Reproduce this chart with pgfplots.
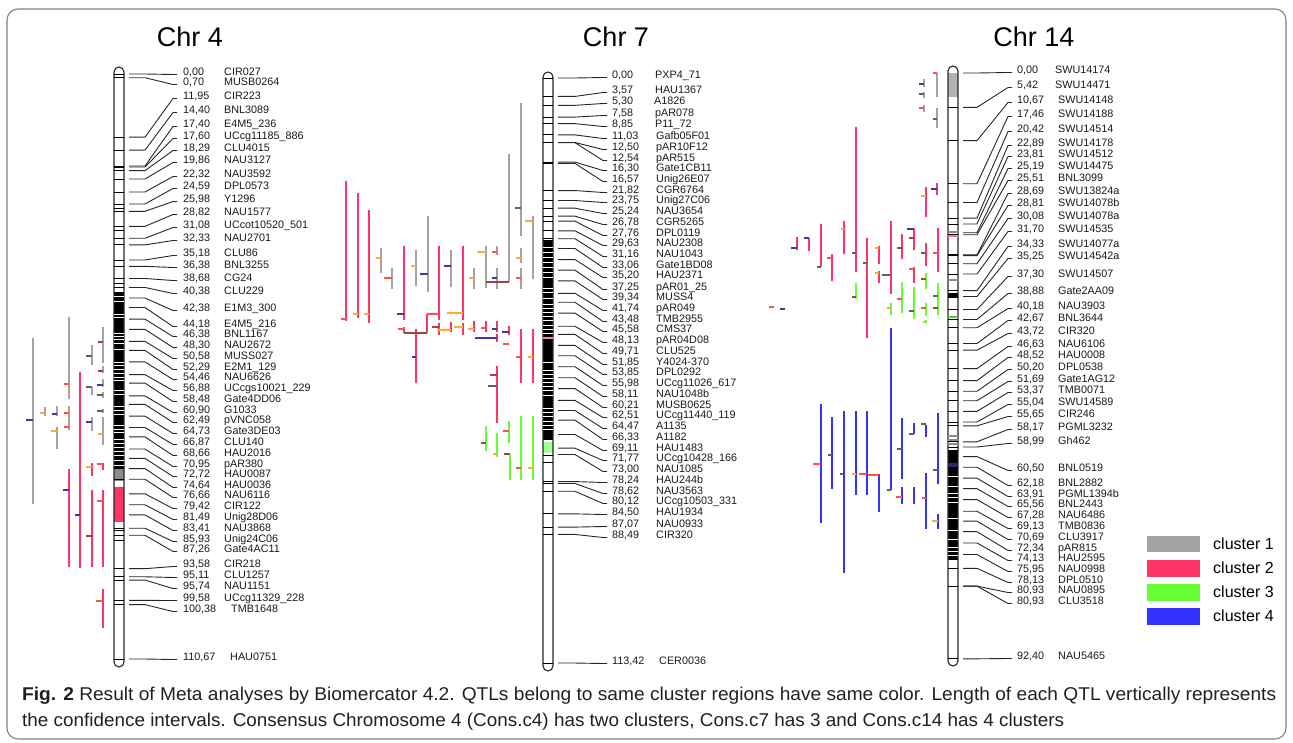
\documentclass[border=0pt]{standalone}
\usepackage{pgfplots}
\pgfplotsset{compat=1.18}
\usepackage{pgfplotstable}
\usepackage{graphicx}
\usepackage{fontspec}
\setmainfont{Liberation Sans}

\definecolor{cgrey}{HTML}{A3A3A3}
\definecolor{cpink}{HTML}{FF3366}
\definecolor{cgreen}{HTML}{66FF33}
\definecolor{cblue}{HTML}{3333FF}
\definecolor{tred}{HTML}{FF5050}
\definecolor{torange}{HTML}{FFAA33}
\definecolor{tblue}{HTML}{3A3AAA}
\definecolor{tbrown}{HTML}{9A4444}
\definecolor{tgrey}{HTML}{606060}
\definecolor{captext}{HTML}{231F20}

\newcommand\lab{\fontsize{10.8}{12}\selectfont}
\tikzset{lab/.style={anchor=base west, inner sep=0pt, font=\lab, text=black!90}}

\pgfplotsset{
  conn/.style={black!85, line width=0.9pt, mark=none},
  qbar/.style={line width=2.8pt, mark=none, unbounded coords=jump},
  gbar/.style={line width=2.4pt, mark=none, unbounded coords=jump, cgrey},
  qtick/.style={line width=1.8pt, mark=none, unbounded coords=jump},
  band/.style={only marks, mark=-, mark size=5pt, mark options={line width=0.9pt, draw=black}, unbounded coords=discard},
  wband/.style={only marks, mark=-, mark size=5pt, mark options={line width=0.8pt, draw=white}},
  block/.style={line width=10pt, mark=none},
}

% cM = position, yl = label row (pixel), nx = x of marker name
\pgfplotstableread{
cM yl nx name
0.00 71 224 CIR027
0.70 81 224 MUSB0264
11.95 95 224 CIR223
14.40 109 224 BNL3089
17.40 123 224 E4M5\textunderscore236
17.60 135 224 UCcg11185\textunderscore886
18.29 147 224 CLU4015
19.86 159 224 NAU3127
22.32 173 224 NAU3592
24.59 185 224 DPL0573
25.98 198 224 Y1296
28.82 211 224 NAU1577
31.08 224 224 UCcot10520\textunderscore501
32.33 237 224 NAU2701
35.18 252 224 CLU86
36.38 264 224 BNL3255
38.68 277 224 CG24
40.38 290 224 CLU229
42.38 307 224 E1M3\textunderscore300
44.18 323 224 E4M5\textunderscore216
46.38 333 224 BNL1167
48.30 344 224 NAU2672
50.58 355 224 MUSS027
52.29 366 224 E2M1\textunderscore129
54.46 376 224 NAU6626
56.88 387 224 UCcgs10021\textunderscore229
58.48 398 224 Gate4DD06
60.90 409 224 G1033
62.49 419 224 pVNC058
64.73 430 224 Gate3DE03
66.87 441 224 CLU140
68.66 452 224 HAU2016
70.95 463 224 pAR380
72.72 473 224 HAU0087
74.64 484 224 HAU0036
76.66 494 224 NAU6116
79.42 505 224 CIR122
81.49 516 224 Unig28D06
83.41 527 224 NAU3868
85.93 538 224 Unig24C06
87.26 548 224 Gate4AC11
93.58 563 224 CIR218
95.11 574 224 CLU1257
95.74 585 224 NAU1151
99.58 597 224 UCcg11329\textunderscore228
100.38 608 231 TMB1648
110.67 656 230 HAU0751
}\chrfour

\pgfplotstableread{
cM yl nx name
0.00 74 655 PXP4\textunderscore71
3.57 89 655 HAU1367
5.30 100 654 A1826
7.58 112 655 pAR078
8.85 123 655 P11\textunderscore72
11.03 135 656 Gafb05F01
12.50 146 656 pAR10F12
12.54 157 656 pAR515
16.30 167 656 Gate1CB11
16.57 178 656 Unig26E07
21.82 189 656 CGR6764
23.75 199 656 Unig27C06
25.24 210 656 NAU3654
26.78 221 656 CGR5265
27.76 232 656 DPL0119
29.63 242 656 NAU2308
31.16 253 656 NAU1043
33.06 264 656 Gate1BD08
35.20 274 656 HAU2371
37.25 286 656 pAR01\textunderscore25
39.34 296 656 MUSS4
41.74 307 656 pAR049
43.48 318 656 TMB2955
45.58 328 656 CMS37
48.13 339 656 pAR04D08
49.71 350 656 CLU525
51.85 361 656 Y4024-370
53.85 371 656 DPL0292
55.98 382 656 UCcg11026\textunderscore617
58.11 393 656 NAU1048b
60.21 404 656 MUSB0625
62.51 414 656 UCcg11440\textunderscore119
64.47 425 656 A1135
66.33 436 656 A1182
69.11 447 656 HAU1483
71.77 457 656 UCcg10428\textunderscore166
73.00 468 656 NAU1085
78.24 479 656 HAU244b
78.62 490 656 NAU3563
80.12 500 656 UCcg10503\textunderscore331
84.50 511 656 HAU1934
87.07 523 656 NAU0933
88.49 534 656 CIR320
113.42 660 659 CER0036
}\chrseven

\pgfplotstableread{
cM yl nx name
0.00 69 1055 SWU14174
5.42 84 1055 SWU14471
10.67 99 1058 SWU14148
17.46 113 1058 SWU14188
20.42 128 1058 SWU14514
22.89 142 1058 SWU14178
23.81 153 1058 SWU14512
25.19 165 1058 SWU14475
25.51 177 1058 BNL3099
28.69 190 1058 SWU13824a
28.81 202 1058 SWU14078b
30.08 215 1058 SWU14078a
31.70 228 1058 SWU14535
34.33 243 1058 SWU14077a
35.25 255 1058 SWU14542a
37.30 273 1058 SWU14507
38.88 290 1058 Gate2AA09
40.18 305 1058 NAU3903
42.67 317 1058 BNL3644
43.72 330 1058 CIR320
46.63 343 1058 NAU6106
48.52 354 1058 HAU0008
50.20 366 1058 DPL0538
51.69 378 1058 Gate1AG12
53.37 389 1058 TMB0071
55.04 401 1058 SWU14589
55.65 413 1058 CIR246
58.17 426 1058 PGML3232
58.99 440 1058 Gh462
60.50 467 1058 BNL0519
62.18 482 1058 BNL2882
63.91 493 1058 PGML1394b
65.56 503 1058 BNL2443
67.28 514 1058 NAU6486
69.13 525 1058 TMB0836
70.69 536 1058 CLU3917
72.34 547 1058 pAR815
74.13 557 1058 HAU2595
75.95 568 1058 NAU0998
78.13 579 1058 DPL0510
80.93 589 1058 NAU0895
80.93 600 1058 CLU3518
92.40 655 1058 NAU5465
}\chrfourteen

% #1 table, #2 y of 0 cM, #3 px per cM, #4 x start, #5 x bend1, #6 x bend2, #7 x end, #8 x of value
\newcommand\chrlabels[8]{%
  \pgfplotstablegetrowsof{#1}%
  \pgfmathtruncatemacro\nlast{\pgfplotsretval-1}%
  \pgfplotsforeachungrouped \i in {0,...,\nlast}{%
    \pgfplotstablegetelem{\i}{cM}\of#1\let\myc\pgfplotsretval
    \pgfplotstablegetelem{\i}{yl}\of#1\let\myl\pgfplotsretval
    \pgfplotstablegetelem{\i}{nx}\of#1\let\mynx\pgfplotsretval
    \pgfplotstablegetelem{\i}{name}\of#1\let\myname\pgfplotsretval
    \pgfmathsetmacro\myym{#2+#3*\myc}%
    \pgfmathsetmacro\myyc{\myl+3.5}%
    \pgfmathsetmacro\myyb{\myl+4}%
    \edef\tmp{%
      \noexpand\addplot[conn] coordinates {(#4,\myym)(#5,\myym)(#6,\myyc)(#7,\myyc)};
      \noexpand\node[lab] at (axis cs:#8,\myyb) {\noexpand\pgfmathprintnumber[fixed,fixed zerofill,precision=2,use comma,assume math mode=true]{\myc}};
      \noexpand\node[lab] at (axis cs:\mynx,\myyb) {\unexpanded\expandafter{\myname}};
    }\tmp
  }%
}

\begin{document}
\begin{tikzpicture}
\begin{axis}[
  x=1pt, y=1pt, y dir=reverse,
  xmin=0, xmax=1293, ymin=0, ymax=742,
  hide axis, clip=false, anchor=south west, at={(0,0)},
]
\path (axis cs:0,0) rectangle (axis cs:1293,742);
% frame
\draw[black!50, line width=1.1pt, rounded corners=11pt] (axis cs:7,9) rectangle (axis cs:1286,739);

% titles
\node[font=\fontsize{27}{30}\selectfont] at (axis cs:190,37) {Chr 4};
\node[font=\fontsize{27}{30}\selectfont] at (axis cs:616,37) {Chr 7};
\node[font=\fontsize{27}{30}\selectfont] at (axis cs:1034,37) {Chr 14};

% ---------------- Chr 4 chromosome ----------------
\addplot[block, black] coordinates {(119,292)(119,476)};
\addplot[wband] coordinates {(119,296)(119,301)(119,314)(119,317)(119,333)(119,336)(119,339)(119,343)(119,349)(119,362)(119,365)(119,369)(119,373)(119,377)(119,380)(119,390)(119,394)(119,406)(119,410)(119,414)(119,425)(119,429)(119,432)(119,439)(119,443)(119,447)(119,451)(119,455)(119,460)(119,465)};
\addplot[band, y filter/.expression={(y>484)&&(y<524) ? nan : y}] table[x expr=119, y expr=74+5.286*\thisrow{cM}] {\chrfour};
\addplot[band] coordinates {(119,204)(119,208)(119,230)(119,283)(119,530)(119,540)};
\addplot[block, black!45] coordinates {(119,469)(119,481)};
\addplot[block, cpink] coordinates {(119,487)(119,522)};
\draw[black!85, line width=1.1pt, rounded corners=5pt] (axis cs:114,67) rectangle (axis cs:124,667);
\chrlabels{\chrfour}{74}{5.286}{129}{145}{173}{177}{183}

% ---------------- Chr 7 chromosome ----------------
\addplot[block, black] coordinates {(548,240)(548,440)};
\addplot[wband] coordinates {(548,247)(548,252)(548,257)(548,262)(548,267)(548,272)(548,277)(548,288)(548,292)(548,298)(548,304)(548,308)(548,312)(548,316)(548,320)(548,325)(548,329)(548,333)(548,362)(548,366)(548,370)(548,374)(548,378)(548,382)(548,386)(548,390)(548,395)(548,408)(548,412)(548,416)(548,421)(548,425)(548,429)(548,434)};
\addplot[band, y filter/.expression={(y>440)&&(y<455) ? nan : y}] table[x expr=548, y expr=78+5.158*\thisrow{cM}] {\chrseven};
\addplot[band] coordinates {(548,455)(548,462)};
\addplot[only marks, mark=-, mark size=5pt, mark options={line width=1.5pt, draw=cpink!60}] coordinates {(548,338)};
\addplot[block, cgreen!55!white] coordinates {(548,442)(548,453)};
\draw[black!85, line width=1.1pt, rounded corners=5pt] (axis cs:543,72) rectangle (axis cs:553,671);
\chrlabels{\chrseven}{78}{5.158}{558}{575}{603}{607}{612}

% ---------------- Chr 14 chromosome ----------------
\addplot[block, black] coordinates {(953,293)(953,298)};
\addplot[block, black] coordinates {(953,450)(953,560)};
\addplot[wband] coordinates {(953,456)(953,476)(953,486)(953,493)(953,497)(953,502)(953,518)(953,530)(953,539)(953,543)(953,547)(953,551)(953,555)};
\addplot[band, y filter/.expression={(y>70)&&(y<99) ? nan : y}] table[x expr=953, y expr=73+6.34*\thisrow{cM}] {\chrfourteen};
\addplot[only marks, mark=-, mark size=5pt, mark options={line width=2pt, draw=black!45}] coordinates {(953,232)(953,280)(953,436)(953,440)(953,444)};
\addplot[only marks, mark=-, mark size=5pt, mark options={line width=2pt, draw=cpink!70}] coordinates {(953,236)};
\addplot[only marks, mark=-, mark size=5pt, mark options={line width=1.5pt, draw=cgreen!80!black}] coordinates {(953,317)};
\addplot[block, black!30] coordinates {(953,73)(953,97)};
\addplot[block, tblue!70!black] coordinates {(953,463)(953,468)};
\draw[black!85, line width=1.1pt, rounded corners=5pt] (axis cs:948,66) rectangle (axis cs:958,666);
\chrlabels{\chrfourteen}{73}{6.34}{963}{977}{1008}{1012}{1017}

% ================= QTLs Chr 4 =================
\addplot[gbar] coordinates {(33,338)(33,504)(33,nan)(69,317)(69,399)(69,nan)(103,327)(103,363)(103,nan)(92,345)(92,365)(92,nan)(103,366)(103,373)(103,nan)(92,387)(92,395)(92,nan)(103,379)(103,387)(103,nan)(103,392)(103,398)(103,nan)(45,407)(45,416)(45,nan)(57,406)(57,416)(57,nan)(69,406)(69,430)(69,nan)(57,427)(57,449)(57,nan)(92,417)(92,431)(92,nan)(103,409)(103,413)(103,nan)(103,417)(103,445)};
\addplot[qbar, cpink] coordinates {(80,372)(80,568)(80,nan)(69,469)(69,567)(69,nan)(92,463)(92,476)(92,nan)(103,463)(103,470)(103,nan)(92,490)(92,567)(92,nan)(103,490)(103,567)(103,nan)(103,589)(103,628)};
\addplot[qtick, tblue] coordinates {(26,420)(33,420)(33,nan)(52,414)(57,414)(57,nan)(86,422)(92,422)(92,nan)(97,385)(103,385)(103,nan)(75,515)(80,515)(80,nan)(63,490)(69,490)};
\addplot[qtick, tred] coordinates {(64,384)(69,384)(69,nan)(64,413)(69,413)(69,nan)(64,427)(69,427)(69,nan)(97,464)(103,464)(103,nan)(97,501)(103,501)(103,nan)(96,601)(103,601)};
\addplot[qtick, torange] coordinates {(40,413)(45,413)(45,nan)(51,431)(57,431)(57,nan)(98,434)(103,434)(103,nan)(86,467)(92,467)};
\addplot[qtick, tbrown] coordinates {(98,342)(103,342)(103,nan)(98,371)(103,371)(103,nan)(86,536)(92,536)};
\addplot[qtick, tgrey] coordinates {(86,356)(92,356)(92,nan)(86,387)(92,387)(92,nan)(97,395)(103,395)(103,nan)(97,411)(103,411)};

% ================= QTLs Chr 7 =================
\addplot[gbar] coordinates {(381,248)(381,273)(381,nan)(392,268)(392,289)(392,nan)(416,250)(416,286)(416,nan)(428,216)(428,292)(428,nan)(451,250)(451,287)(451,nan)(474,268)(474,289)(474,nan)(486,246)(486,288)(486,nan)(497,246)(497,255)(497,nan)(497,268)(497,289)(497,nan)(509,154)(509,282)(509,nan)(521,103)(521,236)(521,nan)(533,216)(533,279)(533,nan)(521,248)(521,263)(521,nan)(521,268)(521,289)};
\addplot[qbar, cpink] coordinates {(346,181)(346,321)(346,nan)(358,193)(358,318)(358,nan)(369,210)(369,323)(369,nan)(404,246)(404,320)(404,nan)(439,246)(439,320)(439,nan)(463,246)(463,320)(463,nan)(416,329)(416,383)(416,nan)(427,314)(427,333)(427,nan)(404,327)(404,333)(404,nan)(439,323)(439,335)(439,nan)(451,322)(451,332)(451,nan)(463,323)(463,335)(463,nan)(474,321)(474,332)(474,nan)(486,321)(486,332)(486,nan)(497,321)(497,332)(497,nan)(497,334)(497,342)(497,nan)(509,326)(509,335)(509,nan)(521,329)(521,383)(521,nan)(533,329)(533,383)(533,nan)(497,366)(497,423)};
\addplot[qbar, cgreen] coordinates {(486,426)(486,451)(486,nan)(497,433)(497,457)(497,nan)(509,421)(509,443)(509,nan)(510,455)(510,480)(510,nan)(521,416)(521,480)(521,nan)(533,416)(533,480)};
\addplot[qtick, tred] coordinates {(341,319)(346,319)(346,nan)(384,278)(392,278)(392,nan)(398,329)(404,329)(404,nan)(492,252)(497,252)(497,nan)(516,278)(521,278)(521,nan)(481,328)(486,328)(486,nan)(516,357)(521,357)(521,nan)(503,431)(509,431)(509,nan)(516,468)(521,468)(521,nan)(427,314)(439,314)(439,nan)(503,344)(509,344)};
\addplot[qtick, torange] coordinates {(353,314)(358,314)(358,nan)(364,314)(369,314)(369,nan)(376,258)(381,258)(381,nan)(411,266)(416,266)(416,nan)(447,313)(463,313)(463,nan)(437,330)(451,330)(451,nan)(454,327)(463,327)(463,nan)(469,278)(474,278)(474,nan)(477,252)(486,252)(486,nan)(468,329)(474,329)(474,nan)(516,258)(521,258)(521,nan)(525,221)(533,221)(533,nan)(528,357)(533,357)(533,nan)(493,454)(497,454)(497,nan)(528,468)(533,468)};
\addplot[qtick, tblue] coordinates {(397,314)(404,314)(404,nan)(420,274)(428,274)(428,nan)(444,266)(451,266)(451,nan)(492,278)(497,278)(497,nan)(492,329)(497,329)(497,nan)(475,338)(497,338)(497,nan)(502,332)(509,332)(509,nan)(412,357)(416,357)};
\addplot[qtick, tbrown] coordinates {(404,333)(427,333)(427,nan)(432,327)(439,327)(439,nan)(486,282)(509,282)(509,nan)(490,375)(497,375)(497,nan)(481,443)(486,443)(486,nan)(504,454)(510,454)};
\addplot[qtick, tgrey] coordinates {(515,208)(521,208)(521,nan)(488,386)(497,386)};

% ================= QTLs Chr 14 =================
\addplot[gbar] coordinates {(937,73)(937,97)(937,nan)(924,79)(924,87)(924,nan)(924,92)(924,98)(924,nan)(924,105)(924,112)(924,nan)(937,108)(937,128)};
\addplot[qbar, cpink] coordinates {(856,127)(856,272)(856,nan)(937,183)(937,195)(937,nan)(926,187)(926,217)(926,nan)(797,237)(797,250)(797,nan)(809,238)(809,251)(809,nan)(821,224)(821,267)(821,nan)(832,254)(832,281)(832,nan)(844,221)(844,254)(844,nan)(867,238)(867,338)(867,nan)(879,246)(879,264)(879,nan)(879,271)(879,283)(879,nan)(891,221)(891,294)(891,nan)(902,234)(902,259)(902,nan)(914,228)(914,250)(914,nan)(914,267)(914,283)(914,nan)(926,243)(926,266)(926,nan)(938,228)(938,272)};
\addplot[qbar, cgreen] coordinates {(856,283)(856,299)(856,nan)(891,303)(891,315)(891,nan)(902,282)(902,313)(902,nan)(914,287)(914,319)(914,nan)(926,273)(926,289)(926,nan)(926,303)(926,316)(926,nan)(926,320)(926,323)(926,nan)(938,283)(938,315)};
\addplot[qbar, cblue] coordinates {(891,328)(891,490)(891,nan)(821,404)(821,523)(821,nan)(832,417)(832,489)(832,nan)(844,411)(844,573)(844,nan)(856,411)(856,495)(856,nan)(867,411)(867,495)(867,nan)(879,474)(879,512)(879,nan)(902,418)(902,479)(902,nan)(914,423)(914,434)(914,nan)(926,425)(926,437)(926,nan)(938,413)(938,484)(938,nan)(902,487)(902,504)(902,nan)(914,487)(914,504)(914,nan)(926,473)(926,529)(926,nan)(938,514)(938,529)};
\addplot[qtick, tred] coordinates {(933,73)(937,73)(937,nan)(919,108)(924,108)(924,nan)(827,258)(832,258)(832,nan)(909,269)(914,269)(914,nan)(933,253)(938,253)(938,nan)(897,299)(902,299)(902,nan)(921,308)(926,308)(926,nan)(769,307)(774,307)(774,nan)(813,464)(821,464)(821,nan)(859,474)(867,474)(867,nan)(868,475)(879,475)(879,nan)(896,497)(902,497)(902,nan)(922,498)(926,498)};
\addplot[qtick, tblue] coordinates {(919,84)(924,84)(924,nan)(931,189)(937,189)(937,nan)(791,248)(797,248)(797,nan)(804,238)(809,238)(809,nan)(907,229)(914,229)(914,nan)(780,309)(785,309)};
\addplot[qtick, torange] coordinates {(921,196)(926,196)(926,nan)(841,229)(844,229)(844,nan)(875,248)(879,248)(879,nan)(875,273)(879,273)(879,nan)(887,308)(891,308)(891,nan)(923,322)(926,322)(926,nan)(852,474)(856,474)(856,nan)(932,521)(938,521)};
\addplot[qtick, tbrown] coordinates {(817,267)(821,267)(821,nan)(897,248)(902,248)(902,nan)(909,238)(914,238)(914,nan)(852,297)(856,297)(856,nan)(921,279)(926,279)(926,nan)(933,308)(938,308)(938,nan)(840,474)(844,474)};
\addplot[qtick, tgrey] coordinates {(919,94)(924,94)(924,nan)(933,119)(937,119)(937,nan)(852,253)(856,253)(856,nan)(863,263)(867,263)(867,nan)(882,275)(891,275)(891,nan)(921,253)(926,253)(926,nan)(909,311)(914,311)(914,nan)(933,296)(938,296)(938,nan)(887,490)(891,490)(891,nan)(828,455)(832,455)(832,nan)(897,449)(902,449)(902,nan)(909,434)(914,434)(914,nan)(921,424)(926,424)(926,nan)(933,470)(938,470)};

% ================= legend =================
\fill[cgrey] (axis cs:1147,536) rectangle (axis cs:1200,552);
\fill[cpink] (axis cs:1147,560) rectangle (axis cs:1200,577);
\fill[cgreen] (axis cs:1147,584) rectangle (axis cs:1200,601);
\fill[cblue] (axis cs:1147,608) rectangle (axis cs:1200,625);
\node[anchor=west, font=\fontsize{16}{18}\selectfont, inner sep=0pt] at (axis cs:1213,544) {cluster 1};
\node[anchor=west, font=\fontsize{16}{18}\selectfont, inner sep=0pt] at (axis cs:1213,568) {cluster 2};
\node[anchor=west, font=\fontsize{16}{18}\selectfont, inner sep=0pt] at (axis cs:1213,592) {cluster 3};
\node[anchor=west, font=\fontsize{16}{18}\selectfont, inner sep=0pt] at (axis cs:1213,616) {cluster 4};

% ================= caption =================
\node[anchor=west, inner sep=0pt, text=captext] at (axis cs:22,696) {\resizebox{1254pt}{\height}{\fontsize{18.5}{21}\selectfont\textbf{Fig. 2} Result of Meta analyses by Biomercator 4.2. QTLs belong to same cluster regions have same color. Length of each QTL vertically represents}};
\node[anchor=west, inner sep=0pt, text=captext] at (axis cs:22,722) {\resizebox{1042pt}{\height}{\fontsize{18.5}{21}\selectfont the confidence intervals. Consensus Chromosome 4 (Cons.c4) has two clusters, Cons.c7 has 3 and Cons.c14 has 4 clusters}};
\end{axis}
\end{tikzpicture}
\end{document}
